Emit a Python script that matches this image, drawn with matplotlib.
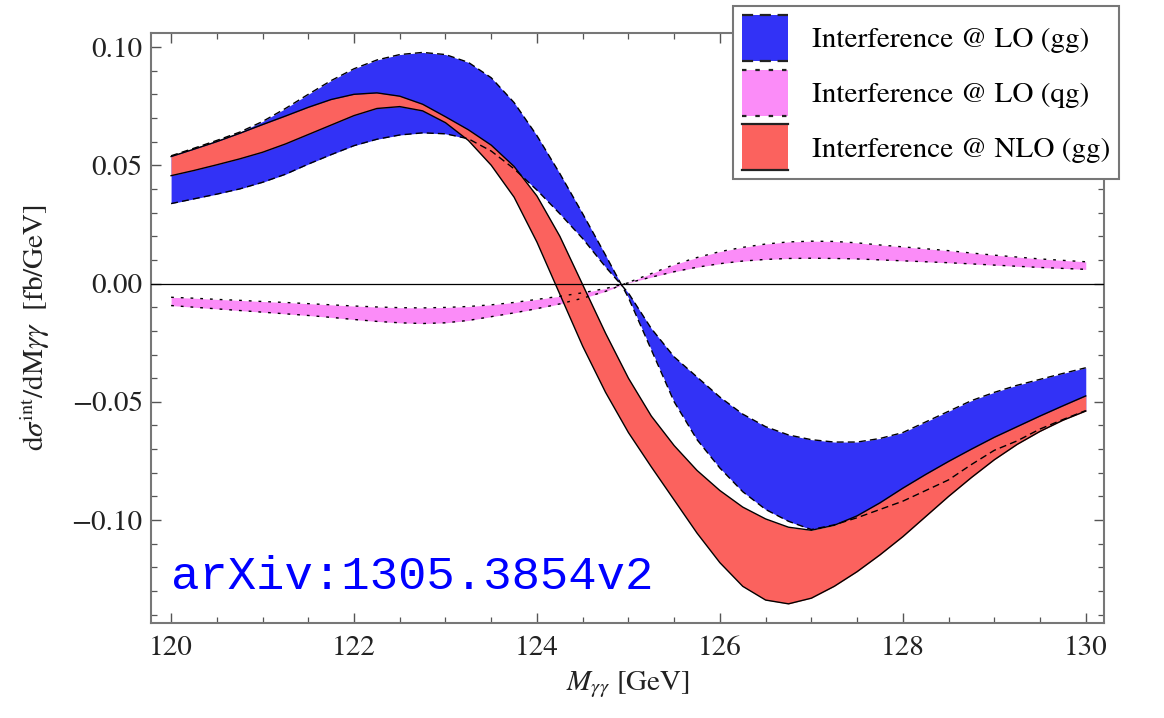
import numpy as np
import matplotlib
matplotlib.use("Agg")
import matplotlib.pyplot as plt
from matplotlib.patches import Patch, Rectangle
from matplotlib.lines import Line2D
from matplotlib.legend_handler import HandlerPatch
from matplotlib.ticker import MultipleLocator, FuncFormatter

# invariant mass grid [GeV]
m_gg = np.arange(120.0, 130.001, 0.25)

# LO (gg) interference, two scale choices (band edges)
lo_gg_a = [0.0540, 0.0572, 0.0605, 0.0640, 0.0685, 0.0740, 0.0800, 0.0858,
           0.0908, 0.0945, 0.0968, 0.0977, 0.0968, 0.0935, 0.0870, 0.0765,
           0.0625, 0.0465, 0.0295, 0.0120, -0.0060, -0.0280, -0.0500, -0.0660,
           -0.0780, -0.0880, -0.0955, -0.1005, -0.1040, -0.1020, -0.0990, -0.0955,
           -0.0920, -0.0875, -0.0830, -0.0765, -0.0705, -0.0665, -0.0615, -0.0575,
           -0.0537]
lo_gg_b = [0.0338, 0.0358, 0.0378, 0.0400, 0.0428, 0.0462, 0.0505, 0.0545,
           0.0583, 0.0610, 0.0628, 0.0637, 0.0633, 0.0612, 0.0560, 0.0485,
           0.0395, 0.0295, 0.0190, 0.0070, -0.0040, -0.0190, -0.0310, -0.0395,
           -0.0480, -0.0552, -0.0605, -0.0640, -0.0660, -0.0670, -0.0670, -0.0655,
           -0.0630, -0.0585, -0.0540, -0.0495, -0.0460, -0.0430, -0.0405, -0.0380,
           -0.0356]

# LO (qg) interference band edges
lo_qg_a = [-0.0093, -0.0100, -0.0107, -0.0114, -0.0121, -0.0128, -0.0135, -0.0143,
           -0.0152, -0.0160, -0.0166, -0.0169, -0.0166, -0.0156, -0.0140, -0.0124,
           -0.0106, -0.0086, -0.0062, -0.0033, 0.0005, 0.0042, 0.0080, 0.0110,
           0.0135, 0.0153, 0.0167, 0.0176, 0.0179, 0.0178, 0.0172, 0.0163,
           0.0155, 0.0147, 0.0139, 0.0129, 0.0120, 0.0112, 0.0104, 0.0098,
           0.0092]
lo_qg_b = [-0.0058, -0.0062, -0.0067, -0.0071, -0.0076, -0.0080, -0.0085, -0.0090,
           -0.0095, -0.0099, -0.0102, -0.0103, -0.0101, -0.0097, -0.0090, -0.0080,
           -0.0067, -0.0054, -0.0039, -0.0021, 0.0003, 0.0027, 0.0050, 0.0069,
           0.0084, 0.0095, 0.0102, 0.0106, 0.0107, 0.0106, 0.0104, 0.0100,
           0.0096, 0.0092, 0.0088, 0.0083, 0.0078, 0.0073, 0.0068, 0.0064,
           0.0060]

# NLO (gg) interference band edges
nlo_gg_hi = [0.0537, 0.0568, 0.0600, 0.0635, 0.0672, 0.0708, 0.0745, 0.0778,
             0.0800, 0.0806, 0.0792, 0.0758, 0.0705, 0.0650, 0.0585, 0.0495,
             0.0370, 0.0200, -0.0005, -0.0210, -0.0400, -0.0560, -0.0685, -0.0790,
             -0.0875, -0.0945, -0.0995, -0.1030, -0.1043, -0.1022, -0.0982, -0.0927,
             -0.0865, -0.0807, -0.0752, -0.0700, -0.0650, -0.0605, -0.0560, -0.0517,
             -0.0475]
nlo_gg_lo = [0.0456, 0.0478, 0.0502, 0.0527, 0.0555, 0.0590, 0.0630, 0.0670,
             0.0710, 0.0740, 0.0748, 0.0730, 0.0680, 0.0605, 0.0500, 0.0365,
             0.0175, -0.0045, -0.0265, -0.0460, -0.0630, -0.0775, -0.0915, -0.1055,
             -0.1180, -0.1280, -0.1338, -0.1354, -0.1330, -0.1280, -0.1218, -0.1147,
             -0.1070, -0.0985, -0.0900, -0.0820, -0.0745, -0.0680, -0.0625, -0.0578,
             -0.0539]

labels = ["Interference @ LO (gg)", "Interference @ LO (qg)", "Interference @ NLO (gg)"]
c_blue = "#3232f6"
c_pink = "#fb8cf8"
c_red = "#fb625e"


class BandHandler(HandlerPatch):
    # filled swatch with the band's edge style drawn on top and bottom
    def create_artists(self, legend, orig_handle, xdescent, ydescent,
                       width, height, fontsize, trans):
        x0, y0 = -xdescent, -ydescent
        rect = Rectangle((x0, y0), width, height, facecolor=orig_handle.get_facecolor(),
                         lw=0, transform=trans)
        ls = orig_handle.get_linestyle()
        top = Line2D([x0, x0 + width], [y0 + height] * 2, color="#222222", lw=1.6,
                     ls=ls, transform=trans)
        bot = Line2D([x0, x0 + width], [y0] * 2, color="#222222", lw=1.6,
                     ls=ls, transform=trans)
        return [rect, top, bot]


plt.rcParams["font.family"] = ["STIXGeneral", "DejaVu Serif"]
plt.rcParams["mathtext.fontset"] = "stix"

fig = plt.figure(figsize=(11.64, 7.18), dpi=100)
ax = fig.add_axes([0.1297, 0.1323, 0.8188, 0.8217])

# bands
ax.fill_between(m_gg, lo_qg_a, lo_qg_b, color=c_pink, lw=0, zorder=1)
ax.fill_between(m_gg, lo_gg_a, lo_gg_b, color=c_blue, lw=0, zorder=2)
ax.fill_between(m_gg, nlo_gg_hi, nlo_gg_lo, color=c_red, lw=0, zorder=3)

# band edges
for y in (nlo_gg_hi, nlo_gg_lo):
    ax.plot(m_gg, y, color="black", lw=1.0, zorder=4)
for y in (lo_gg_a, lo_gg_b):
    ax.plot(m_gg, y, color="black", lw=1.0, ls=(0, (5, 3)), zorder=5)
for y in (lo_qg_a, lo_qg_b):
    ax.plot(m_gg, y, color="black", lw=1.0, ls=(0, (2, 5)), zorder=5)

ax.axhline(0.0, color="black", lw=0.9, zorder=6)

ax.set_xlim(119.78, 130.2)
ax.set_ylim(-0.1435, 0.1059)

ax.xaxis.set_major_locator(MultipleLocator(2))
ax.xaxis.set_minor_locator(MultipleLocator(0.5))
ax.yaxis.set_major_locator(MultipleLocator(0.05))
ax.yaxis.set_minor_locator(MultipleLocator(0.01))
ax.yaxis.set_major_formatter(FuncFormatter(lambda v, p: f"{v:.2f}".replace("-", "\u2212")))
ax.tick_params(which="both", direction="in", top=True, right=True,
               color="#555555", labelsize=21, labelcolor="#222222")
ax.tick_params(which="major", length=7, width=1.0)
ax.tick_params(which="minor", length=4, width=0.9)
ax.tick_params(axis="x", pad=9)
ax.tick_params(axis="y", pad=6)
for s in ax.spines.values():
    s.set_color("#777777")
    s.set_linewidth(1.5)

ax.set_xlabel(r"$M_{\gamma\gamma}$ [GeV]", fontsize=21, color="#222222", labelpad=6)
ax.set_ylabel(r"d$\sigma^{\rm int}$/dM$\gamma\gamma$  [fb/GeV]", fontsize=21,
              color="#222222", labelpad=14)

ax.text(120.0, -0.129, "arXiv:1305.3854v2", family="Liberation Mono",
        fontsize=34, color="#0000ff", va="baseline", ha="left", zorder=7)

handles = [Patch(facecolor=c_blue, ls=(0, (5, 3))),
           Patch(facecolor=c_pink, ls=(0, (2, 4))),
           Patch(facecolor=c_red, ls="-")]
leg = fig.legend(handles, labels, loc="upper left", bbox_to_anchor=(0.6297, 0.9916),
                 fontsize=21, frameon=True, fancybox=False, handlelength=1.6,
                 handleheight=2.05, handletextpad=0.8, labelspacing=0.3,
                 borderpad=0.3, borderaxespad=0.0,
                 handler_map={Patch: BandHandler()})
leg.get_frame().set_edgecolor("#777777")
leg.get_frame().set_linewidth(1.5)
leg.get_frame().set_alpha(1.0)

fig.savefig("out.png", dpi=100)
